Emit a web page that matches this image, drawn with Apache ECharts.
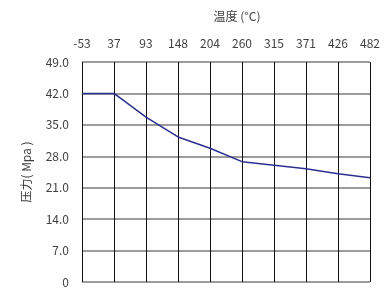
<!DOCTYPE html>
<html>
<head>
<meta charset="utf-8">
<script src="https://cdn.jsdelivr.net/npm/echarts@6/dist/echarts.min.js"></script>
<style>
  html, body { margin: 0; padding: 0; background: #fff; }
  #chart { width: 392px; height: 288px; }
</style>
</head>
<body>
<div id="chart"></div>
<script>
// 温度 categories (top axis)
var temps = ['-53', '37', '93', '148', '204', '260', '315', '371', '426', '482'];
// 压力 values
var pressure = [42.0, 42.0, 36.7, 32.3, 29.8, 26.8, 26.0, 25.2, 24.1, 23.2];

var font = '"Noto Sans CJK JP", "Noto Sans", sans-serif';

var chart = echarts.init(document.getElementById('chart'));
chart.setOption({
  animation: false,
  title: {
    text: '温度 (°C)',
    left: 232,
    top: 5,
    textAlign: 'center',
    textStyle: { fontSize: 12, fontWeight: 'normal', color: '#404040', fontFamily: font }
  },
  grid: { left: 82, right: 22, top: 62, bottom: 2 },
  xAxis: {
    type: 'category',
    position: 'top',
    data: temps,
    boundaryGap: false,
    axisLine: { show: false },
    axisTick: { show: false },
    axisLabel: { fontSize: 12, color: '#404040', margin: 13, fontFamily: font },
    splitLine: { show: true, lineStyle: { color: '#111', width: 1 } }
  },
  yAxis: {
    type: 'value',
    min: 0,
    max: 49,
    interval: 7,
    name: '压力( Mpa )',
    nameLocation: 'middle',
    nameRotate: 90,
    nameGap: 50,
    nameTextStyle: { fontSize: 12, color: '#404040', fontFamily: font },
    axisLine: { show: false },
    axisTick: { show: false },
    axisLabel: {
      fontSize: 12, color: '#404040', margin: 13, fontFamily: font,
      formatter: function (v) { return v === 0 ? '0' : v.toFixed(1); }
    },
    splitLine: { show: true, lineStyle: { color: '#7a7a7a', width: 1.5 } }
  },
  series: [{
    type: 'line',
    data: pressure,
    symbol: 'none',
    lineStyle: { color: '#2b3090', width: 1.5 }
  }]
});
</script>
</body>
</html>
